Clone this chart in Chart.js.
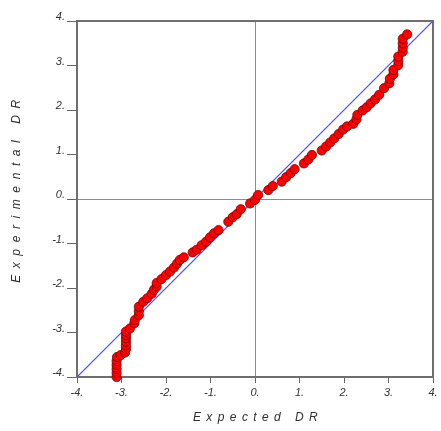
<!DOCTYPE html>
<html>
<head>
<meta charset="utf-8">
<script src="https://cdn.jsdelivr.net/npm/chart.js@4"></script>
<style>
    html, body { margin: 0; padding: 0; background: #ffffff; }
    #wrap { width: 441px; height: 431px; }
</style>
</head>
<body>
<div id="wrap"><canvas id="qqChart" width="441" height="431"></canvas></div>
<script>
// normal probability plot: expected vs experimental DR
const expectedDR = [
    -3.11, -3.11, -3.11, -3.11, -3.11, -3.10, -3.02, -2.92,
    -2.90, -2.90, -2.90, -2.90, -2.90, -2.90, -2.81, -2.71,
    -2.70, -2.61, -2.61, -2.61, -2.51, -2.42, -2.32, -2.27,
    -2.21, -2.21, -2.10, -2.00, -1.91, -1.82, -1.75, -1.69,
    -1.60, -1.40, -1.31, -1.20, -1.10, -1.01, -0.92, -0.82,
    -0.60, -0.50, -0.41, -0.32, -0.11, 0.00, 0.07, 0.30,
    0.40, 0.60, 0.70, 0.80, 0.89, 1.10, 1.20, 1.28,
    1.50, 1.60, 1.69, 1.78, 1.88, 1.98, 2.07, 2.21,
    2.28, 2.30, 2.42, 2.51, 2.60, 2.70, 2.79, 2.90,
    3.02, 3.03, 3.11, 3.11, 3.22, 3.22, 3.22, 3.32,
    3.32, 3.32, 3.32, 3.42,
];
const experimentalDR = [
    -4.00, -3.91, -3.82, -3.73, -3.64, -3.55, -3.51, -3.45,
    -3.37, -3.29, -3.21, -3.13, -3.06, -2.98, -2.91, -2.79,
    -2.72, -2.61, -2.52, -2.42, -2.31, -2.23, -2.13, -2.04,
    -1.97, -1.89, -1.80, -1.71, -1.63, -1.54, -1.45, -1.37,
    -1.31, -1.20, -1.14, -1.04, -0.96, -0.86, -0.77, -0.70,
    -0.51, -0.41, -0.34, -0.23, -0.10, -0.02, 0.09, 0.20,
    0.29, 0.39, 0.49, 0.58, 0.67, 0.80, 0.89, 0.99,
    1.09, 1.18, 1.27, 1.36, 1.46, 1.56, 1.63, 1.69,
    1.79, 1.89, 1.99, 2.06, 2.15, 2.24, 2.34, 2.49,
    2.60, 2.70, 2.80, 2.90, 3.01, 3.10, 3.20, 3.31,
    3.40, 3.50, 3.60, 3.70,
];
const refLineX = [-4, 4];
const refLineY = [-4, 4];
const tickValues = [-4, -3, -2, -1, 0, 1, 2, 3, 4];

const qqPoints = expectedDR.map((x, i) => ({ x: x, y: experimentalDR[i] }));
const refPoints = refLineX.map((x, i) => ({ x: x, y: refLineY[i] }));

// spread the axis title letters like the original
const spacedTitles = {
    id: "spacedTitles",
    afterLayout: (chart) => {
        Object.values(chart.scales).forEach((scale) => {
            if (scale._spaced) return;
            const orig = scale.drawTitle;
            const isX = scale.axis === "x";
            scale.drawTitle = function (area) {
                const c = this.ctx;
                c.save();
                c.letterSpacing = isX ? "5.4px" : "6.6px";
                if (isX) c.translate(3, 0);
                else c.translate(0, -11);
                orig.call(this, area);
                c.restore();
            };
            scale._spaced = true;
        });
    },
};

// frame around the plot area
const plotFrame = {
    id: "plotFrame",
    beforeDatasetsDraw: (chart) => {
        const { ctx, chartArea: { top, bottom, left, right } } = chart;
        ctx.save();
        ctx.strokeStyle = "#6e6e6e";
        ctx.lineWidth = 2;
        ctx.strokeRect(left, top, right - left, bottom - top);
        ctx.restore();
    },
};

const tickFont = { family: "'Liberation Sans', Arial, sans-serif", size: 11, style: "italic" };
const titleFont = { family: "'Liberation Sans', Arial, sans-serif", size: 12, style: "italic" };

const ctx = document.getElementById("qqChart").getContext("2d");
let qqChart = new Chart(ctx, {
    type: "scatter",
    data: {
        datasets: [
            {
                type: "line",
                label: "Reference",
                data: refPoints,
                borderColor: "#4a4aff",
                borderWidth: 1.2,
                pointRadius: 0,
                fill: false,
                order: 2,
            },
            {
                label: "DR",
                data: qqPoints,
                backgroundColor: "#ff0000",
                borderColor: "#6e0000",
                borderWidth: 0.8,
                pointRadius: 4.6,
                clip: false,
                order: 1,
            },
        ],
    },
    options: {
        responsive: false,
        animation: false,
        layout: {
            padding: { top: 21, right: 8, bottom: 0, left: 0 },
        },
        scales: {
            x: {
                type: "linear",
                min: -4,
                max: 4,
                afterFit: (scale) => { scale.height = 54; },
                afterBuildTicks: (scale) => { scale.ticks = tickValues.map((v) => ({ value: v })); },
                grid: {
                    drawOnChartArea: true,
                    color: (c) => (c.tick && c.tick.value === 0 ? "#8c8c8c" : "rgba(0,0,0,0)"),
                    tickColor: "#666",
                    tickLength: 6,
                    lineWidth: 1,
                },
                border: { display: true, color: "#4d4d4d", width: 2 },
                ticks: {
                    color: "#333",
                    font: tickFont,
                    padding: 3,
                    maxRotation: 0,
                    callback: (v) => v + ".",
                },
                title: {
                    display: true,
                    text: "Expected DR",
                    color: "#2e2e2e",
                    font: titleFont,
                    padding: { top: 0, bottom: 6 },
                },
            },
            y: {
                type: "linear",
                min: -4,
                max: 4,
                afterFit: (scale) => { scale.width = 77; },
                afterBuildTicks: (scale) => { scale.ticks = tickValues.map((v) => ({ value: v })); },
                grid: {
                    drawOnChartArea: true,
                    color: (c) => (c.tick && c.tick.value === 0 ? "#8c8c8c" : "rgba(0,0,0,0)"),
                    tickColor: "#666",
                    tickLength: 10,
                    lineWidth: 1,
                },
                border: { display: true, color: "#4d4d4d", width: 2 },
                ticks: {
                    color: "#333",
                    font: tickFont,
                    padding: 2,
                    labelOffset: -4,
                    callback: (v) => v + ".",
                },
                title: {
                    display: true,
                    text: "Experimental DR",
                    color: "#2e2e2e",
                    font: titleFont,
                    padding: { top: 9, bottom: 0 },
                },
            },
        },
        plugins: {
            legend: { display: false },
            tooltip: { enabled: false },
        },
    },
    plugins: [spacedTitles, plotFrame],
});
</script>
</body>
</html>
